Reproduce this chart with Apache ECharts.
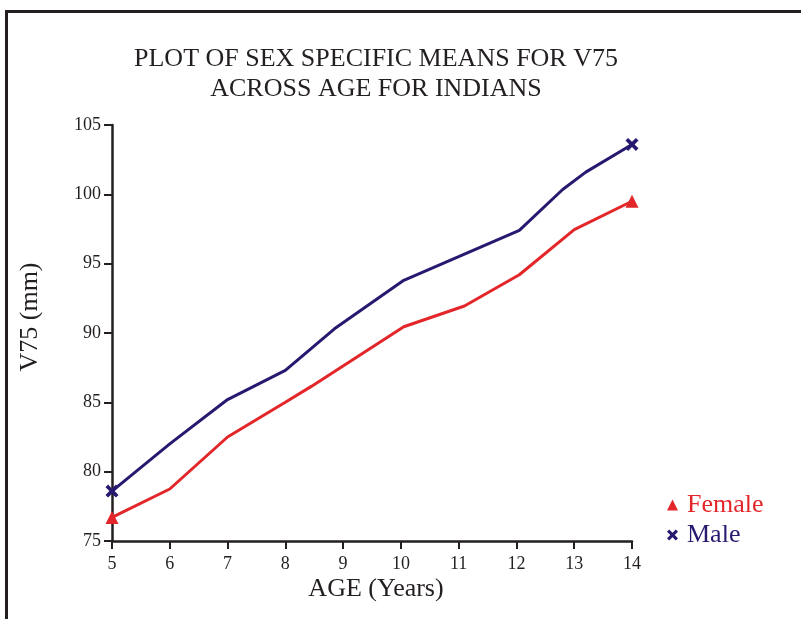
<!DOCTYPE html>
<html><head><meta charset="utf-8">
<script src="https://cdn.jsdelivr.net/npm/echarts@6/dist/echarts.min.js"></script>
<style>html,body{margin:0;padding:0;background:#fff}#c{width:801px;height:619px}</style>
</head><body><div id="c"></div>
<script>
const titleLines = ['PLOT OF SEX SPECIFIC MEANS FOR V75', 'ACROSS AGE FOR INDIANS'];
const xAxisTitle = 'AGE (Years)';
const yAxisTitle = 'V75 (mm)';
const xTicks = [5, 6, 7, 8, 9, 10, 11, 12, 13, 14];
const yTicks = [75, 80, 85, 90, 95, 100, 105];
const ageFemale = [5, 6, 7, 8, 8.45, 10.05, 11.1, 12.05, 13, 14];
const v75Female = [76.7, 78.75, 82.5, 85.0, 86.15, 90.45, 91.95, 94.2, 97.45, 99.5];
const ageMale = [5, 6, 7, 8, 8.85, 10.05, 11, 12.05, 12.8, 13.2, 14];
const v75Male = [78.6, 82.0, 85.2, 87.3, 90.3, 93.8, 95.5, 97.4, 100.35, 101.6, 103.6];

const RED = '#e2262a', NAVY = '#261a70', INK = '#231f20';
const FONT = '"Liberation Serif", "Times New Roman", serif';
const XPATH = 'path://M0,2 L2,0 L5,3 L8,0 L10,2 L7,5 L10,8 L8,10 L5,7 L2,10 L0,8 L3,5 Z';

function build(ages, vals, sym, size) {
  const last = ages.length - 1;
  return ages.map((a, i) => ({
    value: [a, vals[i]],
    symbol: (i === 0 || i === last) ? sym : 'none',
    symbolSize: size
  }));
}

const chart = echarts.init(document.getElementById('c'), null, {renderer: 'canvas'});
chart.setOption({
  animation: false,
  backgroundColor: '#fff',
  textStyle: {fontFamily: FONT},
  graphic: [
    {type: 'rect', shape: {x: 6.5, y: 11.5, width: 1000, height: 1000}, style: {fill: 'none', stroke: INK, lineWidth: 3}, silent: true},
    {type: 'text', x: 376, y: 59, style: {text: titleLines[0], font: '26px ' + FONT, fill: INK, textAlign: 'center', textVerticalAlign: 'middle'}},
    {type: 'text', x: 376, y: 89, style: {text: titleLines[1], font: '26px ' + FONT, fill: INK, textAlign: 'center', textVerticalAlign: 'middle'}},
    {type: 'text', x: 376, y: 589, style: {text: xAxisTitle, font: '26px ' + FONT, fill: INK, textAlign: 'center', textVerticalAlign: 'middle'}},
    {type: 'text', x: 30, y: 317, rotation: Math.PI / 2, style: {text: yAxisTitle, font: '26px ' + FONT, fill: INK, textAlign: 'center', textVerticalAlign: 'middle'}}
  ],
  grid: {left: 112, right: 169, top: 125, bottom: 78, containLabel: false},
  legend: {
    orient: 'vertical', left: 662, top: 487, itemGap: 4, itemWidth: 11, itemHeight: 11,
    textStyle: {fontFamily: FONT, fontSize: 26, padding: [0, 0, 0, 4]},
    data: [
      {name: 'Female', icon: 'triangle', textStyle: {color: RED}},
      {name: 'Male', icon: XPATH, textStyle: {color: NAVY}}
    ]
  },
  xAxis: {
    type: 'value', min: 5, max: 14, interval: 1,
    axisLine: {lineStyle: {color: INK, width: 2.5}},
    axisTick: {length: 8, lineStyle: {color: INK, width: 2}},
    axisLabel: {fontFamily: FONT, fontSize: 18, color: INK, margin: 14,
      formatter: v => xTicks.includes(v) ? String(v) : ''},
    splitLine: {show: false}
  },
  yAxis: {
    type: 'value', min: 75, max: 105, interval: 5,
    axisLine: {show: true, lineStyle: {color: INK, width: 2.5}},
    axisTick: {show: true, length: 8, lineStyle: {color: INK, width: 2}},
    axisLabel: {fontFamily: FONT, fontSize: 18, color: INK, margin: 11,
      formatter: v => yTicks.includes(v) ? String(v) : ''},
    splitLine: {show: false}
  },
  series: [
    {name: 'Female', type: 'line', data: build(ageFemale, v75Female, 'triangle', 13),
      symbol: 'none', showSymbol: true, showAllSymbol: true, clip: false,
      lineStyle: {color: RED, width: 3}, itemStyle: {color: RED}},
    {name: 'Male', type: 'line', data: build(ageMale, v75Male, XPATH, 13),
      symbol: 'none', showSymbol: true, showAllSymbol: true, clip: false,
      lineStyle: {color: NAVY, width: 3}, itemStyle: {color: NAVY}}
  ]
});
</script></body></html>
